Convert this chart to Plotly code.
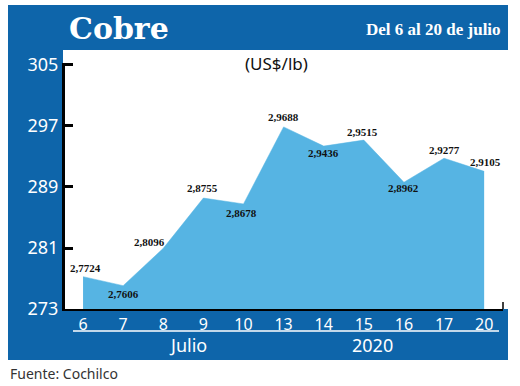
import plotly.graph_objects as go

# ---- data ----
days = ["6", "7", "8", "9", "10", "13", "14", "15", "16", "17", "20"]
prices = [2.7724, 2.7606, 2.8096, 2.8755, 2.8678, 2.9688, 2.9436, 2.9515, 2.8962, 2.9277, 2.9105]
y_ticks = [273, 281, 289, 297, 305]
month_label = "Julio"
year_label = "2020"
title = "Cobre"
subtitle = "Del 6 al 20 de julio"
unit = "(US$/lb)"
source = "Fuente: Cochilco"

# label offsets (px) relative to each point: (xshift, yshift)
label_offsets = [(2, 9), (0, -8), (-14, 6), (-1, 10), (-2, -9), (0, 10),
                 (0, -7), (-1, 8), (0, -6), (0, 8), (1, 9)]

W, H = 520, 386
BLUE = "#0e65aa"
FILL = "#56b4e3"

def px(x):
    return x / W

def py(y):
    return 1 - y / H

idx = list(range(len(days)))
vals = [p * 100 for p in prices]

fig = go.Figure()
fig.add_trace(go.Scatter(
    x=idx, y=vals, mode="lines", fill="tozeroy",
    fillcolor=FILL, line=dict(color=FILL, width=0.5),
    hoverinfo="skip", showlegend=False,
))

shapes = [
    dict(type="rect", xref="paper", yref="paper", x0=px(8), x1=px(508), y0=py(360), y1=py(5),
         fillcolor=BLUE, line=dict(width=0), layer="below"),
    dict(type="rect", xref="paper", yref="paper", x0=px(63), x1=px(508), y0=py(309), y1=py(50),
         fillcolor="white", line=dict(width=0), layer="below"),
    dict(type="line", xref="paper", yref="paper", x0=px(73), x1=px(499), y0=py(331), y1=py(331),
         line=dict(color="white", width=1.5)),
    # small end mark at right of x axis
    dict(type="line", xref="paper", yref="paper", x0=px(503), x1=px(503), y0=py(309), y1=py(302),
         line=dict(color="black", width=1.5)),
]

annotations = []
for i, (v, p) in enumerate(zip(vals, prices)):
    dx, dy = label_offsets[i]
    annotations.append(dict(
        x=i, y=v, xref="x", yref="y", text=f"<b>{p:.4f}</b>".replace(".", ","),
        showarrow=False, xshift=dx, yshift=dy,
        font=dict(family="Liberation Serif, serif", size=11, color="#111"),
    ))

annotations += [
    dict(x=px(67), y=py(28), xref="paper", yref="paper", text=f"<b>{title}</b>", showarrow=False,
         xanchor="left", yanchor="middle",
         font=dict(family="DejaVu Serif", size=30, color="white")),
    dict(x=px(503), y=py(29), xref="paper", yref="paper", text=f"<b>{subtitle}</b>", showarrow=False,
         xanchor="right", yanchor="middle",
         font=dict(family="Liberation Serif", size=17, color="white")),
    dict(x=px(276), y=py(63), xref="paper", yref="paper", text=unit, showarrow=False,
         xanchor="center", yanchor="middle",
         font=dict(family="Noto Sans", size=17, color="#111")),
    dict(x=px(188), y=py(345), xref="paper", yref="paper", text=month_label, showarrow=False,
         xanchor="center", yanchor="middle",
         font=dict(family="Noto Sans", size=18, color="white")),
    dict(x=px(372), y=py(345), xref="paper", yref="paper", text=year_label, showarrow=False,
         xanchor="center", yanchor="middle",
         font=dict(family="Noto Sans", size=18, color="white")),
    dict(x=px(8), y=py(373), xref="paper", yref="paper", text=source, showarrow=False,
         xanchor="left", yanchor="middle",
         font=dict(family="Noto Sans", size=14, color="#333")),
]

fig.update_layout(
    width=W, height=H,
    margin=dict(l=0, r=0, t=0, b=0, autoexpand=False),
    paper_bgcolor="white",
    plot_bgcolor="rgba(0,0,0,0)",
    shapes=shapes,
    annotations=annotations,
    showlegend=False,
    xaxis=dict(
        domain=[px(65), px(503)], range=[-0.45, 10.47],
        tickvals=idx, ticktext=days, ticks="",
        showgrid=False, zeroline=False, automargin=False,
        showline=True, linecolor="black", linewidth=2,
        tickfont=dict(family="Noto Sans", size=16, color="white"),
        fixedrange=True,
    ),
    yaxis=dict(
        domain=[py(309), py(63)], range=[273, 305.26],
        tickvals=y_ticks, ticks="inside", ticklen=8, tickwidth=3, tickcolor="black",
        showgrid=False, zeroline=False, automargin=False,
        showline=True, linecolor="black", linewidth=3,
        tickfont=dict(family="Noto Sans", size=18, color="white"),
        fixedrange=True,
    ),
)

fig.write_html("out.html", config={"displayModeBar": False},
               post_script="document.body.style.margin='0';document.body.style.overflow='hidden';")
